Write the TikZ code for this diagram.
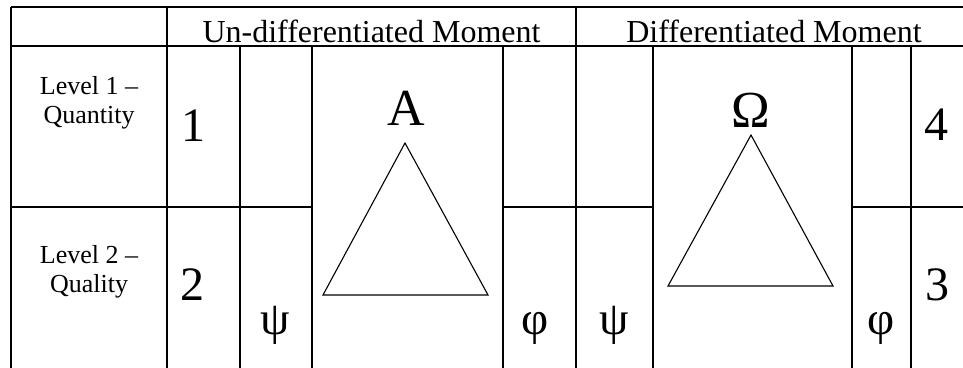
\documentclass[tikz,border=0pt]{standalone}
\usepackage{fontspec}
\setmainfont{Liberation Serif}
\begin{document}
\begin{tikzpicture}[x=1pt, y=-1pt,
    rule/.style={line width=1.6pt},
    thin/.style={line width=1.1pt},
    every node/.style={inner sep=0pt, anchor=base},
    headtxt/.style={font=\fontsize{32}{36}\selectfont},
    leveltxt/.style={font=\fontsize{26}{29}\selectfont, align=center},
    digit/.style={font=\fontsize{48}{54}\selectfont},
    apex/.style={font=\fontsize{52}{58}\selectfont},
    greek/.style={font=\fontsize{47}{52}\selectfont}]
            \useasboundingbox (0,0) rectangle (963,367);
            % grid of the table
            \draw[rule] (11,7) -- (975,7);
            \draw[rule] (11,46) -- (975,46);
            \draw[rule] (11,207) -- (312,207);
            \draw[rule] (503,207) -- (653,207);
            \draw[rule] (852,207) -- (975,207);
            \foreach \x in {11,167,576}
                \draw[rule] (\x,7) -- (\x,372);
            \foreach \x in {240,312,503,653,852,911}
                \draw[rule] (\x,46) -- (\x,372);
            % headers
            \node[headtxt] (undiff) at (371.5,42) {Un-differentiated Moment};
            \node[headtxt] (diff) at (774,42) {Differentiated Moment};
            \node[leveltxt] (lvlone) at (89,123) {Level 1 --\\Quantity};
            \node[leveltxt] (lvltwo) at (89,292) {Level 2 --\\Quality};
            % numbers
            \node[digit] (one) at (193,141) {1};
            \node[digit] (two) at (192,300) {2};
            \node[digit] (four) at (936,140) {4};
            \node[digit] (three) at (937,300) {3};
            % greek letters
            \node[greek] (psia) at (275,334) {ψ};
            \node[greek] (phia) at (535,334) {φ};
            \node[greek] (psib) at (614,334) {ψ};
            \node[greek] (phib) at (881,334) {φ};
            % triangles
            \node[apex] (alpha) at (406,125) {A};
            \node[apex] (omega) at (751,127) {Ω};
            \draw[thin, line join=miter] (405,143) -- (488,295) -- (323,295) -- cycle;
            \draw[thin, line join=miter] (751,135) -- (833,286) -- (668,286) -- cycle;
        \end{tikzpicture}
\end{document}
